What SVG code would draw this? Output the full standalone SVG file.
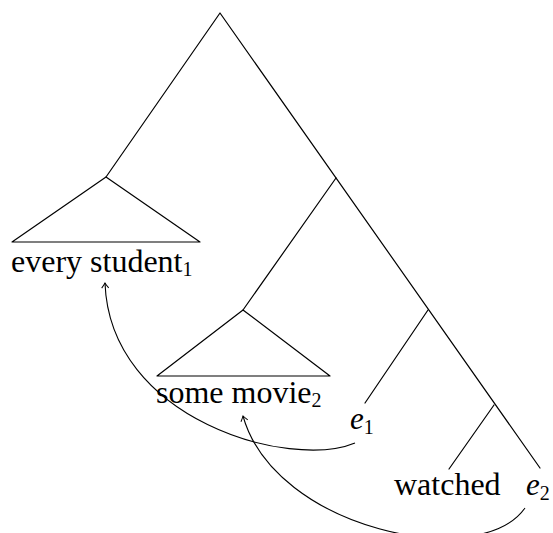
<svg xmlns="http://www.w3.org/2000/svg" width="553" height="533" viewBox="0 0 553 533">
<defs>
<style>
.ln{fill:none;stroke:#000;stroke-width:1.2;stroke-linecap:round;stroke-linejoin:round}
.arc{fill:none;stroke:#000;stroke-width:1.1}
.t{font-family:"Liberation Serif","DejaVu Serif",serif;font-size:32px;fill:#000}
.m{font-family:"Liberation Serif","DejaVu Serif",serif;font-size:31px;font-style:italic;fill:#000}
.sub{font-size:20px;font-style:normal}
</style>
<marker id="ah" viewBox="-6 -5 8 10" markerWidth="8" markerHeight="10" refX="0" refY="0" orient="auto" markerUnits="userSpaceOnUse">
<path d="M-5,-3.5 Q-1.5,-0.8 0,0 Q-1.5,0.8 -5,3.5" fill="none" stroke="#000" stroke-width="1"/>
</marker>
</defs>
<g id="edges">
<path class="ln" d="M106,177 L220,13 L540,468"/>
<path class="ln" d="M336,178 L243,310"/>
<path class="ln" d="M428,310 L365,403"/>
<path class="ln" d="M494,405 L449,469"/>
</g>
<g id="node-every-student">
<path class="ln" d="M106,177 L12,242 L200,242 Z"/>
<text class="t" x="11" y="272">every student<tspan class="sub" dy="4">1</tspan></text>
</g>
<g id="node-some-movie">
<path class="ln" d="M243,310 L157,376 L330,376 Z"/>
<text class="t" x="156" y="403">some movie<tspan class="sub" dy="4">2</tspan></text>
</g>
<g id="node-e1">
<text class="m" x="350" y="429">e<tspan class="sub" dy="5">1</tspan></text>
</g>
<g id="node-watched">
<text class="t" x="394" y="495">watched</text>
</g>
<g id="node-e2">
<text class="m" x="526" y="495">e<tspan class="sub" dy="5">2</tspan></text>
</g>
<g id="connectors">
<path class="arc" marker-end="url(#ah)" d="M355,443 C290,470 110,420 105,283"/>
<path class="arc" marker-end="url(#ah)" d="M525,508 C480,572 275,530 243,416"/>
</g>
</svg>
